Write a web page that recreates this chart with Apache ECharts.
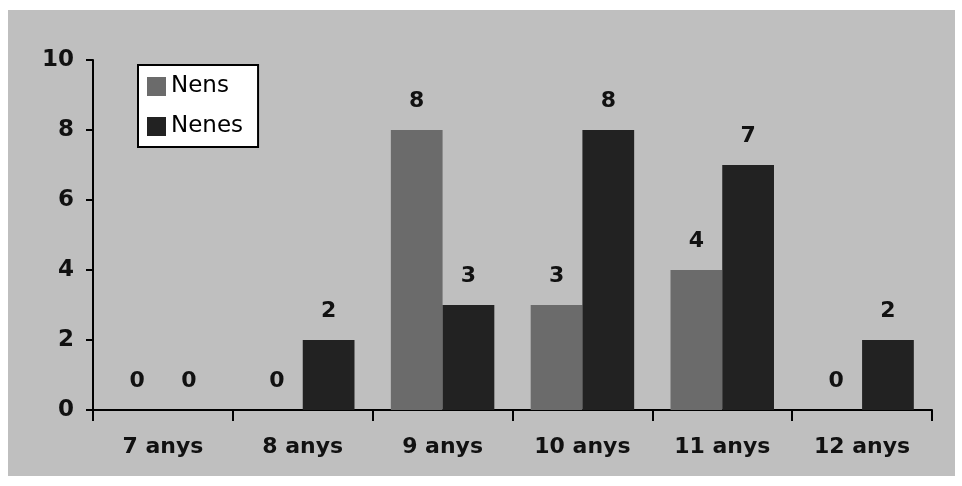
<!DOCTYPE html>
<html>
<head>
<meta charset="utf-8">
<script src="https://cdn.jsdelivr.net/npm/echarts@6/dist/echarts.min.js"></script>
<style>
html,body{margin:0;padding:0;background:#fff;width:962px;height:486px;overflow:hidden;}
#c{position:absolute;left:8px;top:10px;width:947px;height:466px;}
</style>
</head>
<body>
<div id="c"></div>
<script>
const categories = ['7 anys', '8 anys', '9 anys', '10 anys', '11 anys', '12 anys'];
const nens = [0, 0, 8, 3, 4, 0];
const nenes = [0, 2, 3, 8, 7, 2];
const yTicks = [0, 2, 4, 6, 8, 10];

const font = 'DejaVu Sans';
const chart = echarts.init(document.getElementById('c'));
const labelStyle = {
  show: true, position: 'top', distance: 18,
  fontFamily: font, fontWeight: 'bold', fontSize: 22, color: '#111'
};
chart.setOption({
  backgroundColor: '#bfbfbf',
  animation: false,
  legend: {
    orient: 'vertical',
    left: 130, top: 55,
    backgroundColor: '#fff',
    borderColor: '#000',
    borderWidth: 2,
    borderRadius: 0,
    padding: [10, 15, 9, 9],
    itemGap: 17,
    itemWidth: 19, itemHeight: 19,
    icon: 'rect',
    textStyle: { fontFamily: font, fontSize: 23, color: '#000' },
    data: ['Nens', 'Nenes']
  },
  grid: { left: 85, right: 23, top: 50, bottom: 66, containLabel: false },
  xAxis: {
    type: 'category',
    data: categories,
    axisLine: { lineStyle: { color: '#000', width: 2 } },
    axisTick: { show: true, length: 11, lineStyle: { color: '#000', width: 2 } },
    axisLabel: { fontFamily: font, fontWeight: 'bold', fontSize: 22, color: '#111', margin: 26 }
  },
  yAxis: {
    type: 'value',
    min: 0, max: 10, interval: 2,
    splitLine: { show: false },
    axisLine: { show: true, lineStyle: { color: '#000', width: 2 } },
    axisTick: { show: true, length: 7, lineStyle: { color: '#000', width: 2 } },
    axisLabel: {
      fontFamily: font, fontWeight: 'bold', fontSize: 23, color: '#111', margin: 19,
      formatter: v => yTicks.includes(v) ? String(v) : ''
    }
  },
  series: [
    { name: 'Nens', type: 'bar', data: nens, barGap: '0%', barCategoryGap: '26%',
      itemStyle: { color: '#6b6b6b' }, label: labelStyle },
    { name: 'Nenes', type: 'bar', data: nenes, barGap: '0%', barCategoryGap: '26%',
      itemStyle: { color: '#222' }, label: labelStyle }
  ]
});
</script>
</body>
</html>
